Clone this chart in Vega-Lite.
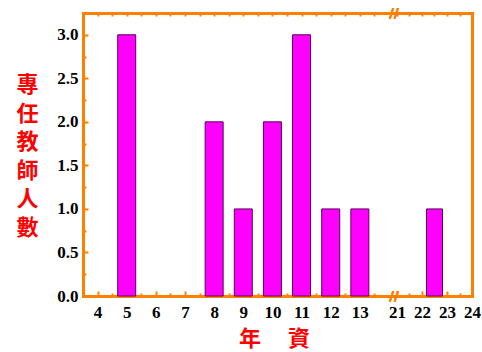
{
  "$schema": "https://vega.github.io/schema/vega-lite/v6.json",
  "padding": {"left": 15, "top": 7, "right": 0, "bottom": 5},
  "bounds": "flush",
  "spacing": 3,
  "data": {"values": [
    {"year": 5, "count": 3},
    {"year": 8, "count": 2},
    {"year": 9, "count": 1},
    {"year": 10, "count": 2},
    {"year": 11, "count": 3},
    {"year": 12, "count": 1},
    {"year": 13, "count": 1},
    {"year": 22.5, "count": 1}
  ]},
  "config": {
    "view": {"stroke": null},
    "scale": {"continuousPadding": 0},
    "axis": {
      "grid": false,
      "domainColor": "#FF8000",
      "domainWidth": 3,
      "domainCap": "square",
      "tickColor": "#FF8000",
      "tickWidth": 2,
      "labelFont": "Liberation Serif",
      "labelFontWeight": "bold",
      "labelFontSize": 17,
      "labelColor": "#000000",
      "labelFlush": false,
      "labelOverlap": false,
      "labelBound": false
    }
  },
  "hconcat": [
    {
      "width": 306,
      "height": 283,
      "transform": [{"filter": "datum.year <= 13"}],
      "layer": [
        {
          "mark": {"type": "bar", "fill": "#FF00FF", "stroke": "#5A005A", "strokeWidth": 1, "size": 18},
          "encoding": {
            "x": {"field": "year", "type": "quantitative",
              "scale": {"domain": [3.5, 14], "nice": false, "zero": false, "padding": 0},
              "axis": {"orient": "bottom", "values": [4, 5, 6, 7, 8, 9, 10, 11, 12, 13], "tickSize": -5, "labelPadding": 13,
                "title": "年　 資", "titleFont": "Noto Sans CJK TC", "titleFontSize": 22, "titleFontWeight": "bold",
                "titleColor": "#FF0000", "titleX": 191, "titleY": 42, "titleBaseline": "middle", "titleAlign": "center"}},
            "y": {"field": "count", "type": "quantitative",
              "scale": {"domain": [0, 3.25], "nice": false, "zero": false, "padding": 0},
              "axis": {"orient": "left", "values": [0, 0.5, 1, 1.5, 2, 2.5, 3], "format": ".1f", "tickSize": -5, "labelPadding": 10,
                "title": ["專", "任", "教", "師", "人", "數"], "titleAngle": 0, "titleLineHeight": 28.5,
                "titleFont": "Noto Sans CJK TC", "titleFontSize": 22, "titleFontWeight": "bold", "titleColor": "#FF0000",
                "titleAlign": "center", "titleBaseline": "middle", "titleX": -56, "titleY": 71.5}}
          }
        },
        {
          "mark": {"type": "bar", "opacity": 0, "size": 18},
          "encoding": {
            "x": {"field": "year", "type": "quantitative",
              "scale": {"domain": [3.5, 14], "nice": false, "zero": false, "padding": 0},
              "axis": {"orient": "top", "values": [4, 4.5, 5, 5.5, 6, 6.5, 7, 7.5, 8, 8.5, 9, 9.5, 10, 10.5, 11, 11.5, 12, 12.5, 13, 13.5], "tickSize": -3, "labels": false, "title": null}},
            "y": {"field": "count", "type": "quantitative",
              "scale": {"domain": [0, 3.25], "nice": false, "zero": false, "padding": 0},
              "axis": {"orient": "left", "values": [0.25, 0.75, 1.25, 1.75, 2.25, 2.75, 3.25], "tickSize": -3, "labels": false, "domain": false, "title": null}}
          }
        },
        {
          "mark": {"type": "bar", "opacity": 0, "size": 18},
          "encoding": {
            "x": {"field": "year", "type": "quantitative",
              "scale": {"domain": [3.5, 14], "nice": false, "zero": false, "padding": 0},
              "axis": {"orient": "bottom", "values": [4.5, 5.5, 6.5, 7.5, 8.5, 9.5, 10.5, 11.5, 12.5, 13.5], "tickSize": -3, "labels": false, "domain": false, "title": null}},
            "y": {"field": "count", "type": "quantitative",
              "scale": {"domain": [0, 3.25], "nice": false, "zero": false, "padding": 0}, "axis": null}
          }
        },
        {
          "mark": {"type": "text", "text": "//", "color": "#FF8000", "fontSize": 13, "fontWeight": "bold", "font": "DejaVu Sans", "dx": 5},
          "encoding": {
            "x": {"datum": 14, "type": "quantitative", "axis": null},
            "y": {"datum": 0, "type": "quantitative", "axis": null}
          }
        },
        {
          "mark": {"type": "text", "text": "//", "color": "#FF8000", "fontSize": 13, "fontWeight": "bold", "font": "DejaVu Sans", "dx": 5},
          "encoding": {
            "x": {"datum": 14, "type": "quantitative", "axis": null},
            "y": {"datum": 3.25, "type": "quantitative", "axis": null}
          }
        }
      ],
      "resolve": {"axis": {"x": "independent", "y": "independent"}}
    },
    {
      "width": 80,
      "height": 283,
      "transform": [{"filter": "datum.year >= 21"}],
      "layer": [
        {
          "mark": {"type": "bar", "fill": "#FF00FF", "stroke": "#5A005A", "strokeWidth": 1, "size": 16},
          "encoding": {
            "x": {"field": "year", "type": "quantitative",
              "scale": {"domain": [20.8, 24], "nice": false, "zero": false, "padding": 0},
              "axis": {"orient": "bottom", "values": [21, 22, 23, 24], "tickSize": -5, "labelPadding": 13, "title": null}},
            "y": {"field": "count", "type": "quantitative",
              "scale": {"domain": [0, 3.25], "nice": false, "zero": false, "padding": 0},
              "axis": {"orient": "right", "ticks": false, "labels": false, "title": null}}
          }
        },
        {
          "mark": {"type": "bar", "opacity": 0, "size": 16},
          "encoding": {
            "x": {"field": "year", "type": "quantitative",
              "scale": {"domain": [20.8, 24], "nice": false, "zero": false, "padding": 0},
              "axis": {"orient": "top", "values": [21, 21.5, 22, 22.5, 23, 23.5], "tickSize": -3, "labels": false, "title": null}},
            "y": {"field": "count", "type": "quantitative",
              "scale": {"domain": [0, 3.25], "nice": false, "zero": false, "padding": 0}, "axis": null}
          }
        },
        {
          "mark": {"type": "bar", "opacity": 0, "size": 16},
          "encoding": {
            "x": {"field": "year", "type": "quantitative",
              "scale": {"domain": [20.8, 24], "nice": false, "zero": false, "padding": 0},
              "axis": {"orient": "bottom", "values": [21.5, 22.5, 23.5], "tickSize": -3, "labels": false, "domain": false, "title": null}},
            "y": {"field": "count", "type": "quantitative",
              "scale": {"domain": [0, 3.25], "nice": false, "zero": false, "padding": 0}, "axis": null}
          }
        }
      ],
      "resolve": {"axis": {"x": "independent", "y": "independent"}}
    }
  ]
}
